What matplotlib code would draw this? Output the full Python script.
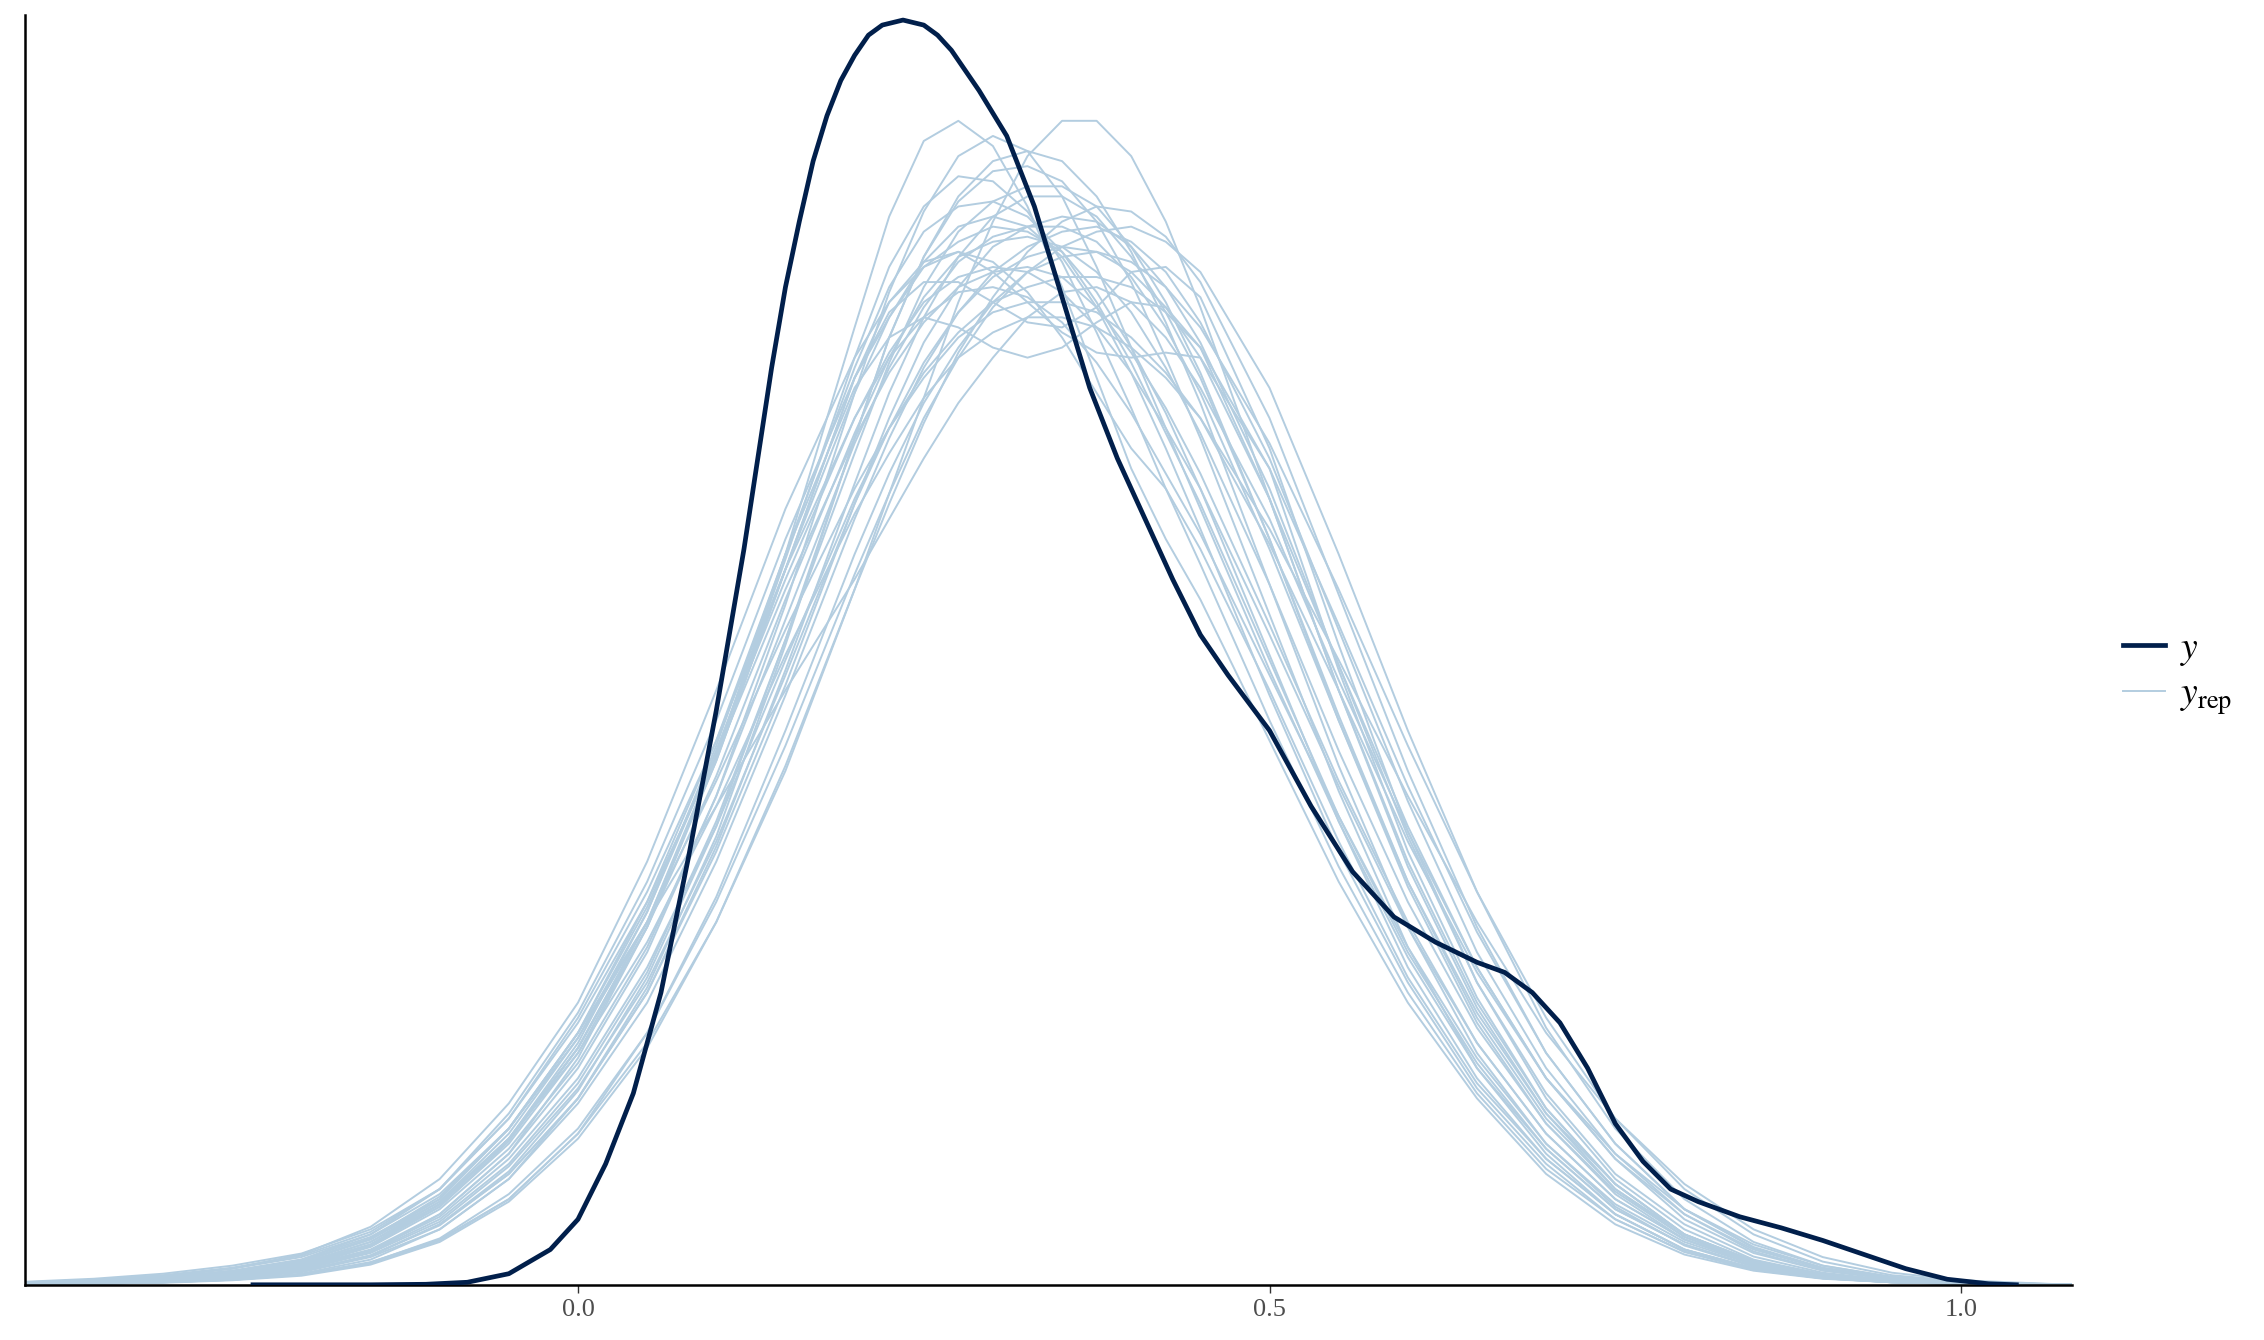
import matplotlib
matplotlib.use("Agg")
import matplotlib.pyplot as plt

y_x = [-0.235, -0.15, -0.11, -0.08, -0.05, -0.02, 0.00, 0.02, 0.04, 0.06, 0.08, 0.10,
       0.12, 0.13, 0.14, 0.15, 0.16, 0.17, 0.18, 0.19, 0.20, 0.21, 0.22, 0.235,
       0.25, 0.26, 0.27, 0.28, 0.29, 0.31, 0.33, 0.35, 0.37, 0.39, 0.41, 0.43,
       0.45, 0.47, 0.50, 0.53, 0.56, 0.59, 0.62, 0.65, 0.67, 0.69, 0.71, 0.73,
       0.75, 0.77, 0.79, 0.81, 0.84, 0.87, 0.90, 0.93, 0.96, 0.99, 1.02, 1.04]
y_dens = [0.0, 0.0, 0.001, 0.005, 0.022, 0.07, 0.13, 0.24, 0.38, 0.58, 0.85, 1.14,
          1.46, 1.64, 1.82, 1.98, 2.11, 2.23, 2.32, 2.39, 2.44, 2.48, 2.50, 2.51,
          2.50, 2.48, 2.45, 2.41, 2.37, 2.28, 2.14, 1.96, 1.78, 1.64, 1.52, 1.40,
          1.29, 1.21, 1.10, 0.95, 0.82, 0.73, 0.68, 0.64, 0.62, 0.58, 0.52, 0.43,
          0.32, 0.245, 0.19, 0.165, 0.135, 0.113, 0.088, 0.060, 0.032, 0.011, 0.002, 0.0]

# replicated draws: a sample of the light curves, on a shared grid
rep_x = [-0.40, -0.35, -0.30, -0.25, -0.20, -0.15, -0.10, -0.05, 0.00, 0.05, 0.10, 0.15,
         0.20, 0.225, 0.25, 0.275, 0.30, 0.325, 0.35, 0.375, 0.40, 0.425, 0.45, 0.50,
         0.55, 0.60, 0.65, 0.70, 0.75, 0.80, 0.85, 0.90, 0.95, 1.00, 1.08]

rep_01 = [0.002, 0.005, 0.010, 0.020, 0.035, 0.075, 0.15, 0.27, 0.44, 0.67, 0.97, 1.32, 1.67, 1.82, 1.94, 2.03, 2.08, 2.10, 2.10, 2.07, 2.00, 1.90, 1.77, 1.46, 1.12, 0.80, 0.54, 0.34, 0.20, 0.10, 0.048, 0.021, 0.008, 0.003, 0.0]
rep_02 = [0.003, 0.007, 0.014, 0.027, 0.05, 0.10, 0.19, 0.34, 0.54, 0.80, 1.12, 1.48, 1.80, 1.92, 2.02, 2.07, 2.10, 2.09, 2.05, 1.97, 1.86, 1.73, 1.58, 1.25, 0.92, 0.63, 0.41, 0.25, 0.14, 0.07, 0.033, 0.014, 0.005, 0.002, 0.0]
rep_03 = [0.001, 0.003, 0.007, 0.014, 0.025, 0.055, 0.11, 0.21, 0.36, 0.56, 0.84, 1.17, 1.52, 1.68, 1.82, 1.93, 2.01, 2.06, 2.09, 2.10, 2.07, 2.01, 1.91, 1.64, 1.30, 0.96, 0.66, 0.43, 0.26, 0.14, 0.066, 0.029, 0.012, 0.004, 0.0]
rep_04 = [0.001, 0.003, 0.007, 0.015, 0.03, 0.065, 0.14, 0.26, 0.45, 0.71, 1.05, 1.45, 1.90, 2.12, 2.27, 2.31, 2.26, 2.14, 1.98, 1.80, 1.62, 1.48, 1.36, 1.08, 0.80, 0.56, 0.37, 0.22, 0.12, 0.06, 0.028, 0.012, 0.005, 0.002, 0.0]
rep_05 = [0.001, 0.002, 0.005, 0.010, 0.02, 0.045, 0.09, 0.17, 0.30, 0.48, 0.72, 1.02, 1.38, 1.57, 1.76, 1.95, 2.11, 2.24, 2.31, 2.31, 2.24, 2.11, 1.94, 1.56, 1.18, 0.84, 0.56, 0.35, 0.20, 0.10, 0.045, 0.019, 0.007, 0.002, 0.0]
rep_06 = [0.002, 0.004, 0.009, 0.018, 0.035, 0.07, 0.14, 0.26, 0.43, 0.66, 0.97, 1.35, 1.77, 1.97, 2.13, 2.24, 2.28, 2.25, 2.16, 2.02, 1.86, 1.70, 1.54, 1.22, 0.92, 0.65, 0.43, 0.27, 0.15, 0.08, 0.037, 0.016, 0.006, 0.002, 0.0]
rep_07 = [0.004, 0.009, 0.018, 0.032, 0.055, 0.10, 0.18, 0.31, 0.49, 0.72, 1.00, 1.30, 1.58, 1.70, 1.80, 1.88, 1.93, 1.95, 1.95, 1.93, 1.88, 1.81, 1.72, 1.47, 1.18, 0.88, 0.62, 0.41, 0.26, 0.15, 0.08, 0.038, 0.016, 0.006, 0.0]
rep_08 = [0.002, 0.005, 0.010, 0.020, 0.04, 0.08, 0.16, 0.29, 0.48, 0.74, 1.07, 1.45, 1.78, 1.88, 1.92, 1.90, 1.86, 1.84, 1.86, 1.91, 1.95, 1.94, 1.86, 1.56, 1.18, 0.83, 0.55, 0.34, 0.19, 0.10, 0.046, 0.02, 0.008, 0.003, 0.0]
rep_09 = [0.002, 0.005, 0.011, 0.022, 0.04, 0.08, 0.16, 0.29, 0.47, 0.72, 1.04, 1.42, 1.80, 1.95, 2.03, 2.05, 2.01, 1.95, 1.89, 1.85, 1.84, 1.85, 1.84, 1.62, 1.22, 0.86, 0.57, 0.35, 0.20, 0.10, 0.047, 0.02, 0.008, 0.003, 0.0]
rep_10 = [0.004, 0.008, 0.016, 0.032, 0.06, 0.115, 0.21, 0.36, 0.56, 0.84, 1.18, 1.54, 1.84, 1.95, 2.02, 2.05, 2.03, 1.97, 1.88, 1.77, 1.66, 1.58, 1.46, 1.18, 0.88, 0.61, 0.40, 0.25, 0.14, 0.07, 0.033, 0.014, 0.005, 0.002, 0.0]
rep_11 = [0.001, 0.002, 0.005, 0.010, 0.02, 0.042, 0.088, 0.17, 0.30, 0.50, 0.77, 1.10, 1.45, 1.61, 1.75, 1.86, 1.95, 2.01, 2.04, 2.05, 2.03, 1.98, 1.90, 1.67, 1.38, 1.07, 0.78, 0.53, 0.33, 0.19, 0.10, 0.046, 0.019, 0.007, 0.0]
rep_12 = [0.002, 0.004, 0.008, 0.016, 0.03, 0.065, 0.13, 0.24, 0.40, 0.62, 0.92, 1.28, 1.65, 1.83, 1.98, 2.09, 2.15, 2.18, 2.18, 2.14, 2.06, 1.95, 1.81, 1.48, 1.12, 0.79, 0.52, 0.32, 0.18, 0.09, 0.042, 0.018, 0.007, 0.002, 0.0]
rep_13 = [0.003, 0.006, 0.012, 0.024, 0.045, 0.09, 0.17, 0.31, 0.50, 0.76, 1.08, 1.45, 1.82, 1.98, 2.09, 2.14, 2.15, 2.12, 2.05, 1.95, 1.83, 1.69, 1.55, 1.24, 0.93, 0.66, 0.44, 0.27, 0.15, 0.08, 0.037, 0.016, 0.006, 0.002, 0.0]
rep_14 = [0.002, 0.004, 0.009, 0.018, 0.033, 0.068, 0.135, 0.25, 0.41, 0.63, 0.91, 1.24, 1.56, 1.70, 1.81, 1.89, 1.95, 1.98, 2.00, 2.00, 1.98, 1.93, 1.86, 1.62, 1.31, 0.99, 0.70, 0.46, 0.28, 0.15, 0.075, 0.034, 0.014, 0.005, 0.0]
rep_15 = [0.003, 0.007, 0.014, 0.028, 0.05, 0.095, 0.17, 0.31, 0.50, 0.72, 0.95, 1.18, 1.40, 1.52, 1.64, 1.75, 1.84, 1.92, 1.97, 1.98, 1.95, 1.88, 1.78, 1.52, 1.20, 0.90, 0.63, 0.41, 0.25, 0.14, 0.07, 0.032, 0.013, 0.005, 0.0]
rep_16 = [0.001, 0.002, 0.005, 0.011, 0.022, 0.05, 0.11, 0.21, 0.37, 0.59, 0.89, 1.27, 1.68, 1.88, 2.04, 2.15, 2.21, 2.22, 2.19, 2.11, 1.99, 1.84, 1.68, 1.33, 0.98, 0.67, 0.43, 0.26, 0.14, 0.07, 0.031, 0.013, 0.005, 0.001, 0.0]
rep_17 = [0.001, 0.003, 0.007, 0.014, 0.027, 0.058, 0.12, 0.22, 0.37, 0.58, 0.86, 1.19, 1.55, 1.72, 1.87, 1.98, 2.06, 2.10, 2.12, 2.11, 2.06, 1.98, 1.87, 1.58, 1.23, 0.89, 0.60, 0.38, 0.22, 0.12, 0.056, 0.024, 0.009, 0.003, 0.0]
rep_18 = [0.006, 0.012, 0.022, 0.038, 0.062, 0.11, 0.19, 0.33, 0.52, 0.76, 1.05, 1.38, 1.68, 1.81, 1.91, 1.98, 2.01, 2.02, 2.00, 1.94, 1.85, 1.74, 1.61, 1.31, 1.00, 0.72, 0.48, 0.30, 0.17, 0.09, 0.043, 0.019, 0.007, 0.002, 0.0]
rep_19 = [0.002, 0.005, 0.011, 0.022, 0.042, 0.085, 0.165, 0.30, 0.49, 0.74, 1.06, 1.42, 1.77, 1.92, 2.03, 2.10, 2.12, 2.10, 2.04, 1.94, 1.81, 1.66, 1.50, 1.17, 0.86, 0.60, 0.39, 0.24, 0.13, 0.066, 0.03, 0.013, 0.005, 0.002, 0.0]
rep_20 = [0.002, 0.004, 0.008, 0.016, 0.03, 0.063, 0.125, 0.235, 0.39, 0.60, 0.88, 1.21, 1.55, 1.70, 1.83, 1.93, 2.00, 2.04, 2.06, 2.05, 2.01, 1.94, 1.84, 1.56, 1.23, 0.91, 0.63, 0.41, 0.25, 0.13, 0.063, 0.028, 0.011, 0.004, 0.0]
rep_21 = [0.001, 0.003, 0.006, 0.013, 0.026, 0.058, 0.12, 0.225, 0.385, 0.61, 0.91, 1.28, 1.68, 1.88, 2.04, 2.16, 2.23, 2.25, 2.23, 2.16, 2.05, 1.91, 1.75, 1.39, 1.03, 0.71, 0.46, 0.28, 0.155, 0.078, 0.036, 0.015, 0.006, 0.002, 0.0]
rep_22 = [0.005, 0.010, 0.019, 0.034, 0.058, 0.105, 0.19, 0.33, 0.53, 0.78, 1.08, 1.42, 1.72, 1.84, 1.92, 1.97, 1.98, 1.96, 1.91, 1.83, 1.73, 1.61, 1.49, 1.21, 0.93, 0.67, 0.45, 0.28, 0.16, 0.085, 0.04, 0.018, 0.007, 0.002, 0.0]
rep_23 = [0.001, 0.002, 0.004, 0.009, 0.018, 0.04, 0.085, 0.165, 0.29, 0.47, 0.72, 1.03, 1.38, 1.55, 1.71, 1.85, 1.96, 2.05, 2.11, 2.14, 2.13, 2.08, 1.99, 1.72, 1.37, 1.02, 0.71, 0.46, 0.28, 0.15, 0.073, 0.032, 0.013, 0.004, 0.0]
rep_24 = [0.003, 0.006, 0.012, 0.023, 0.042, 0.085, 0.16, 0.29, 0.47, 0.71, 1.01, 1.36, 1.69, 1.84, 1.96, 2.04, 2.07, 2.08, 2.06, 2.01, 1.93, 1.82, 1.69, 1.39, 1.06, 0.76, 0.51, 0.32, 0.185, 0.095, 0.045, 0.019, 0.007, 0.002, 0.0]
rep_25 = [0.002, 0.005, 0.010, 0.020, 0.038, 0.078, 0.155, 0.28, 0.46, 0.71, 1.04, 1.42, 1.80, 1.93, 1.99, 1.99, 1.95, 1.91, 1.90, 1.94, 2.01, 2.02, 1.96, 1.66, 1.27, 0.90, 0.60, 0.37, 0.21, 0.11, 0.05, 0.021, 0.008, 0.003, 0.0]
rep_26 = [0.002, 0.005, 0.010, 0.020, 0.038, 0.078, 0.155, 0.285, 0.47, 0.72, 1.05, 1.44, 1.84, 2.02, 2.14, 2.20, 2.19, 2.13, 2.03, 1.89, 1.74, 1.58, 1.43, 1.12, 0.83, 0.58, 0.38, 0.23, 0.13, 0.065, 0.03, 0.013, 0.005, 0.002, 0.0]
rep_27 = [0.003, 0.007, 0.014, 0.027, 0.048, 0.09, 0.165, 0.29, 0.46, 0.68, 0.95, 1.25, 1.53, 1.65, 1.76, 1.84, 1.89, 1.92, 1.92, 1.90, 1.86, 1.80, 1.72, 1.50, 1.24, 0.97, 0.72, 0.50, 0.33, 0.20, 0.11, 0.055, 0.024, 0.009, 0.0]
rep_28 = [0.001, 0.003, 0.007, 0.014, 0.027, 0.058, 0.118, 0.22, 0.37, 0.58, 0.87, 1.22, 1.59, 1.77, 1.92, 2.04, 2.12, 2.16, 2.16, 2.12, 2.04, 1.93, 1.80, 1.48, 1.13, 0.80, 0.53, 0.33, 0.19, 0.095, 0.044, 0.019, 0.007, 0.002, 0.0]
rep_29 = [0.003, 0.006, 0.013, 0.025, 0.046, 0.092, 0.175, 0.31, 0.50, 0.75, 1.06, 1.40, 1.72, 1.85, 1.95, 2.00, 2.02, 2.01, 1.97, 1.90, 1.81, 1.70, 1.58, 1.29, 0.99, 0.71, 0.48, 0.30, 0.17, 0.09, 0.042, 0.018, 0.007, 0.002, 0.0]
rep_30 = [0.001, 0.002, 0.005, 0.010, 0.02, 0.044, 0.092, 0.18, 0.31, 0.50, 0.76, 1.07, 1.41, 1.57, 1.72, 1.84, 1.94, 2.01, 2.06, 2.09, 2.10, 2.07, 2.01, 1.78, 1.45, 1.10, 0.78, 0.51, 0.31, 0.17, 0.085, 0.038, 0.015, 0.005, 0.0]

reps = [rep_01, rep_02, rep_03, rep_04, rep_05, rep_06, rep_07, rep_08, rep_09, rep_10,
        rep_11, rep_12, rep_13, rep_14, rep_15, rep_16, rep_17, rep_18, rep_19, rep_20,
        rep_21, rep_22, rep_23, rep_24, rep_25, rep_26, rep_27, rep_28, rep_29, rep_30]

x_ticks = [0.0, 0.5, 1.0]
x_tick_labels = ["0.0", "0.5", "1.0"]

LIGHT = "#b3cde0"
DARK = "#011f4b"

plt.rcParams["font.family"] = ["Liberation Serif", "DejaVu Serif"]
plt.rcParams["mathtext.fontset"] = "stix"

fig = plt.figure(figsize=(11.32, 6.70), dpi=200)
ax = fig.add_axes([0.01095, 0.0412, 0.9041, 0.9476])

rep_lines = []
for r in reps:
    ln, = ax.plot(rep_x, r, color=LIGHT, lw=0.7, solid_joinstyle="round")
    rep_lines.append(ln)
y_line, = ax.plot(y_x, y_dens, color=DARK, lw=1.7, solid_joinstyle="round", zorder=5)

ax.set_xlim(-0.40, 1.08)
ax.set_ylim(0, 2.52)

for side in ["top", "right"]:
    ax.spines[side].set_visible(False)
for side in ["left", "bottom"]:
    ax.spines[side].set_linewidth(0.9)
    ax.spines[side].set_color("black")

ax.set_yticks([])
ax.set_xticks(x_ticks)
ax.set_xticklabels(x_tick_labels)
ax.tick_params(axis="x", length=3, width=0.5, color="#333333",
               labelcolor="#4d4d4d", labelsize=9.5, pad=2)

fig.legend([y_line, rep_lines[0]], [r"$y$", r"$y_{\mathrm{rep}}$"],
           loc="center left", bbox_to_anchor=(0.9377, 0.497),
           frameon=False, fontsize=13.5, handlelength=1.11,
           handletextpad=0.41, labelspacing=0.25,
           borderpad=0, borderaxespad=0)

fig.savefig("out.png", dpi=200)
